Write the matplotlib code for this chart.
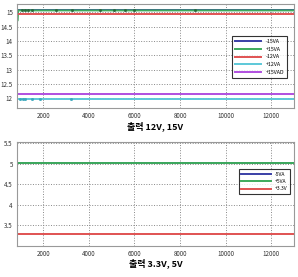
import matplotlib.pyplot as plt
import matplotlib.ticker as mticker

plt.rcParams['font.family'] = ['Noto Sans CJK KR', 'DejaVu Sans']

# sample times
t = [850, 880, 900, 1000, 13000]

# 12V / 15V rails
neg15va = [15.07, 15.07, 15.07, 15.07, 15.07]
pos15va = [14.70, 14.72, 15.07, 15.07, 15.07]
neg12va = [14.95, 14.95, 14.95, 14.95, 14.95]
pos12va = [11.97, 11.97, 11.97, 11.97, 11.97]
pos15vad = [12.15, 12.15, 12.15, 12.15, 12.15]

# small dark marks visible on the +15VA trace
mark_t = [1050, 1200, 1350, 1500, 2550, 3250, 4500, 5100, 5600, 6000, 8650]
mark_v = [15.07] * len(mark_t)
# cyan dots near +12VA start
cdot_t = [1000, 1100, 1200, 1500, 1850, 3200]
cdot_v = [11.97] * len(cdot_t)

# 3.3V / 5V rails
neg5va = [5.02, 5.02, 5.02, 5.02, 5.02]
pos5va = [5.02, 5.02, 5.02, 5.02, 5.02]
pos3v3 = [3.30, 3.30, 3.30, 3.30, 3.30]

c_blue = '#3a3fa6'
c_green = '#3daa5c'
c_red = '#e05252'
c_cyan = '#5cc8d8'
c_purple = '#b04fe0'

fig = plt.figure(figsize=(2.98, 2.77), dpi=100)
ax1 = fig.add_axes([0.057, 0.610, 0.930, 0.376])
ax2 = fig.add_axes([0.057, 0.112, 0.930, 0.375])


def style(ax):
    ax.set_xlim(850, 13000)
    ax.xaxis.set_major_locator(mticker.FixedLocator([2000, 4000, 6000, 8000, 10000, 12000]))
    ax.grid(True, linestyle=':', color='#888888', linewidth=0.7)
    ax.tick_params(length=0, labelsize=4.5, pad=3, colors='#333333')
    for s in ax.spines.values():
        s.set_color('#999999')
        s.set_linewidth(0.8)


ax1.plot(t, neg15va, color=c_blue, lw=1.4, label='-15VA')
ax1.plot(t, pos15va, color=c_green, lw=1.4, label='+15VA')
ax1.plot(t, neg12va, color=c_red, lw=1.4, label='-12VA')
ax1.plot(t, pos12va, color=c_cyan, lw=1.4, label='+12VA')
ax1.plot(t, pos15vad, color=c_purple, lw=1.4, label='+15VAD')
ax1.plot(mark_t, mark_v, ls='none', marker='s', ms=1.0, color='#2a6a3a')
ax1.plot(cdot_t, cdot_v, ls='none', marker='s', ms=1.0, color='#3aa8bc')
ax1.set_ylim(11.65, 15.3)
ax1.set_yticks([12, 12.5, 13, 13.5, 14, 14.5, 15])
ax1.yaxis.set_major_formatter(mticker.FormatStrFormatter('%g'))
style(ax1)
ax1.set_xlabel('출력 12V, 15V', fontsize=6.5, fontweight='bold', labelpad=1)
leg1 = ax1.legend(loc='center right', bbox_to_anchor=(0.985, 0.49), fontsize=3.8,
                  handlelength=5, frameon=True, fancybox=False, borderpad=0.6,
                  labelspacing=0.5)
leg1.get_frame().set_edgecolor('black')
leg1.get_frame().set_linewidth(0.8)

ax2.plot(t, neg5va, color=c_blue, lw=1.4, label='-5VA')
ax2.plot(t, pos5va, color=c_green, lw=1.4, label='+5VA')
ax2.plot(t, pos3v3, color=c_red, lw=1.4, label='+3.3V')
ax2.set_ylim(3.0, 5.52)
ax2.set_yticks([3.5, 4, 4.5, 5, 5.5])
ax2.yaxis.set_major_formatter(mticker.FormatStrFormatter('%g'))
style(ax2)
ax2.set_xlabel('출력 3.3V, 5V', fontsize=6.5, fontweight='bold', labelpad=0)
leg2 = ax2.legend(loc='center right', bbox_to_anchor=(0.995, 0.62), fontsize=3.6,
                  handlelength=6, frameon=True, fancybox=False, borderpad=0.5,
                  labelspacing=0.45)
leg2.get_frame().set_edgecolor('black')
leg2.get_frame().set_linewidth(0.8)

fig.savefig('out.png', dpi=100)
